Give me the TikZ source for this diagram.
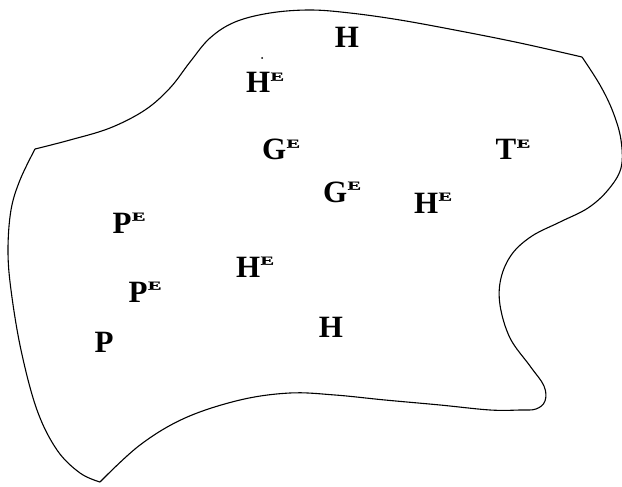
\documentclass[tikz,border=0pt]{standalone}
\usepackage{graphicx}
\usepackage{fontspec}
\setmainfont{Liberation Serif}
\newfontfamily\Efont[FakeBold=1.2]{Liberation Serif}
\newcommand{\supE}{\kern0.5pt\raisebox{12.3pt}{\scalebox{1}[0.62]{\fontsize{20}{20}\selectfont\Efont\bfseries E}}}
\tikzset{
  lab/.style={anchor=base, inner sep=0pt, font=\fontsize{31}{31}\selectfont\bfseries},
  outline/.style={line width=1.1pt, black}
}
\begin{document}
\begin{tikzpicture}[x=1pt,y=-1pt]
\useasboundingbox (0,0) rectangle (622,487);
% outline
\coordinate (lc) at (35,149);
\coordinate (rc) at (582,57);
\coordinate (bt) at (100,482);
\draw[outline] plot[smooth, tension=0.6] coordinates {(35,149) (70,140) (110,128) (145,110) (170,88) (190,62) (210,38) (235,22) (270,13) (310,10) (350,13) (400,20) (460,31) (520,43) (582,57)};
\draw[outline] plot[smooth, tension=0.6] coordinates {(582,57) (600,85) (613,112) (621,140) (621,168) (608,190) (588,208) (560,222) (532,236) (512,254) (501,278) (500,305) (510,338) (530,366) (544,386) (545,401) (536,409) (520,410) (490,410) (440,405) (385,400) (335,395) (290,393) (240,400) (185,418) (140,445) (100,482)};
\draw[outline] plot[smooth, tension=0.6] coordinates {(100,482) (80,473) (57,450) (37,410) (21,350) (11,290) (8,250) (11,210) (20,180) (35,149)};
% labels
\node[lab] (h1) at (347,48) {H};
\node[lab] (he1) at (265,93) {H\supE};
\fill (262,58) circle (1.0);
\node[lab] (ge1) at (281,160) {G\supE};
\node[lab] (te) at (513,160) {T\supE};
\node[lab] (ge2) at (342,202) {G\supE};
\node[lab] (he2) at (433,213) {H\supE};
\node[lab] (pe1) at (129,233) {P\supE};
\node[lab] (he3) at (255,277) {H\supE};
\node[lab] (pe2) at (145,302) {P\supE};
\node[lab] (p) at (104,352) {P};
\node[lab] (h2) at (331,337) {H};
\end{tikzpicture}
\end{document}
